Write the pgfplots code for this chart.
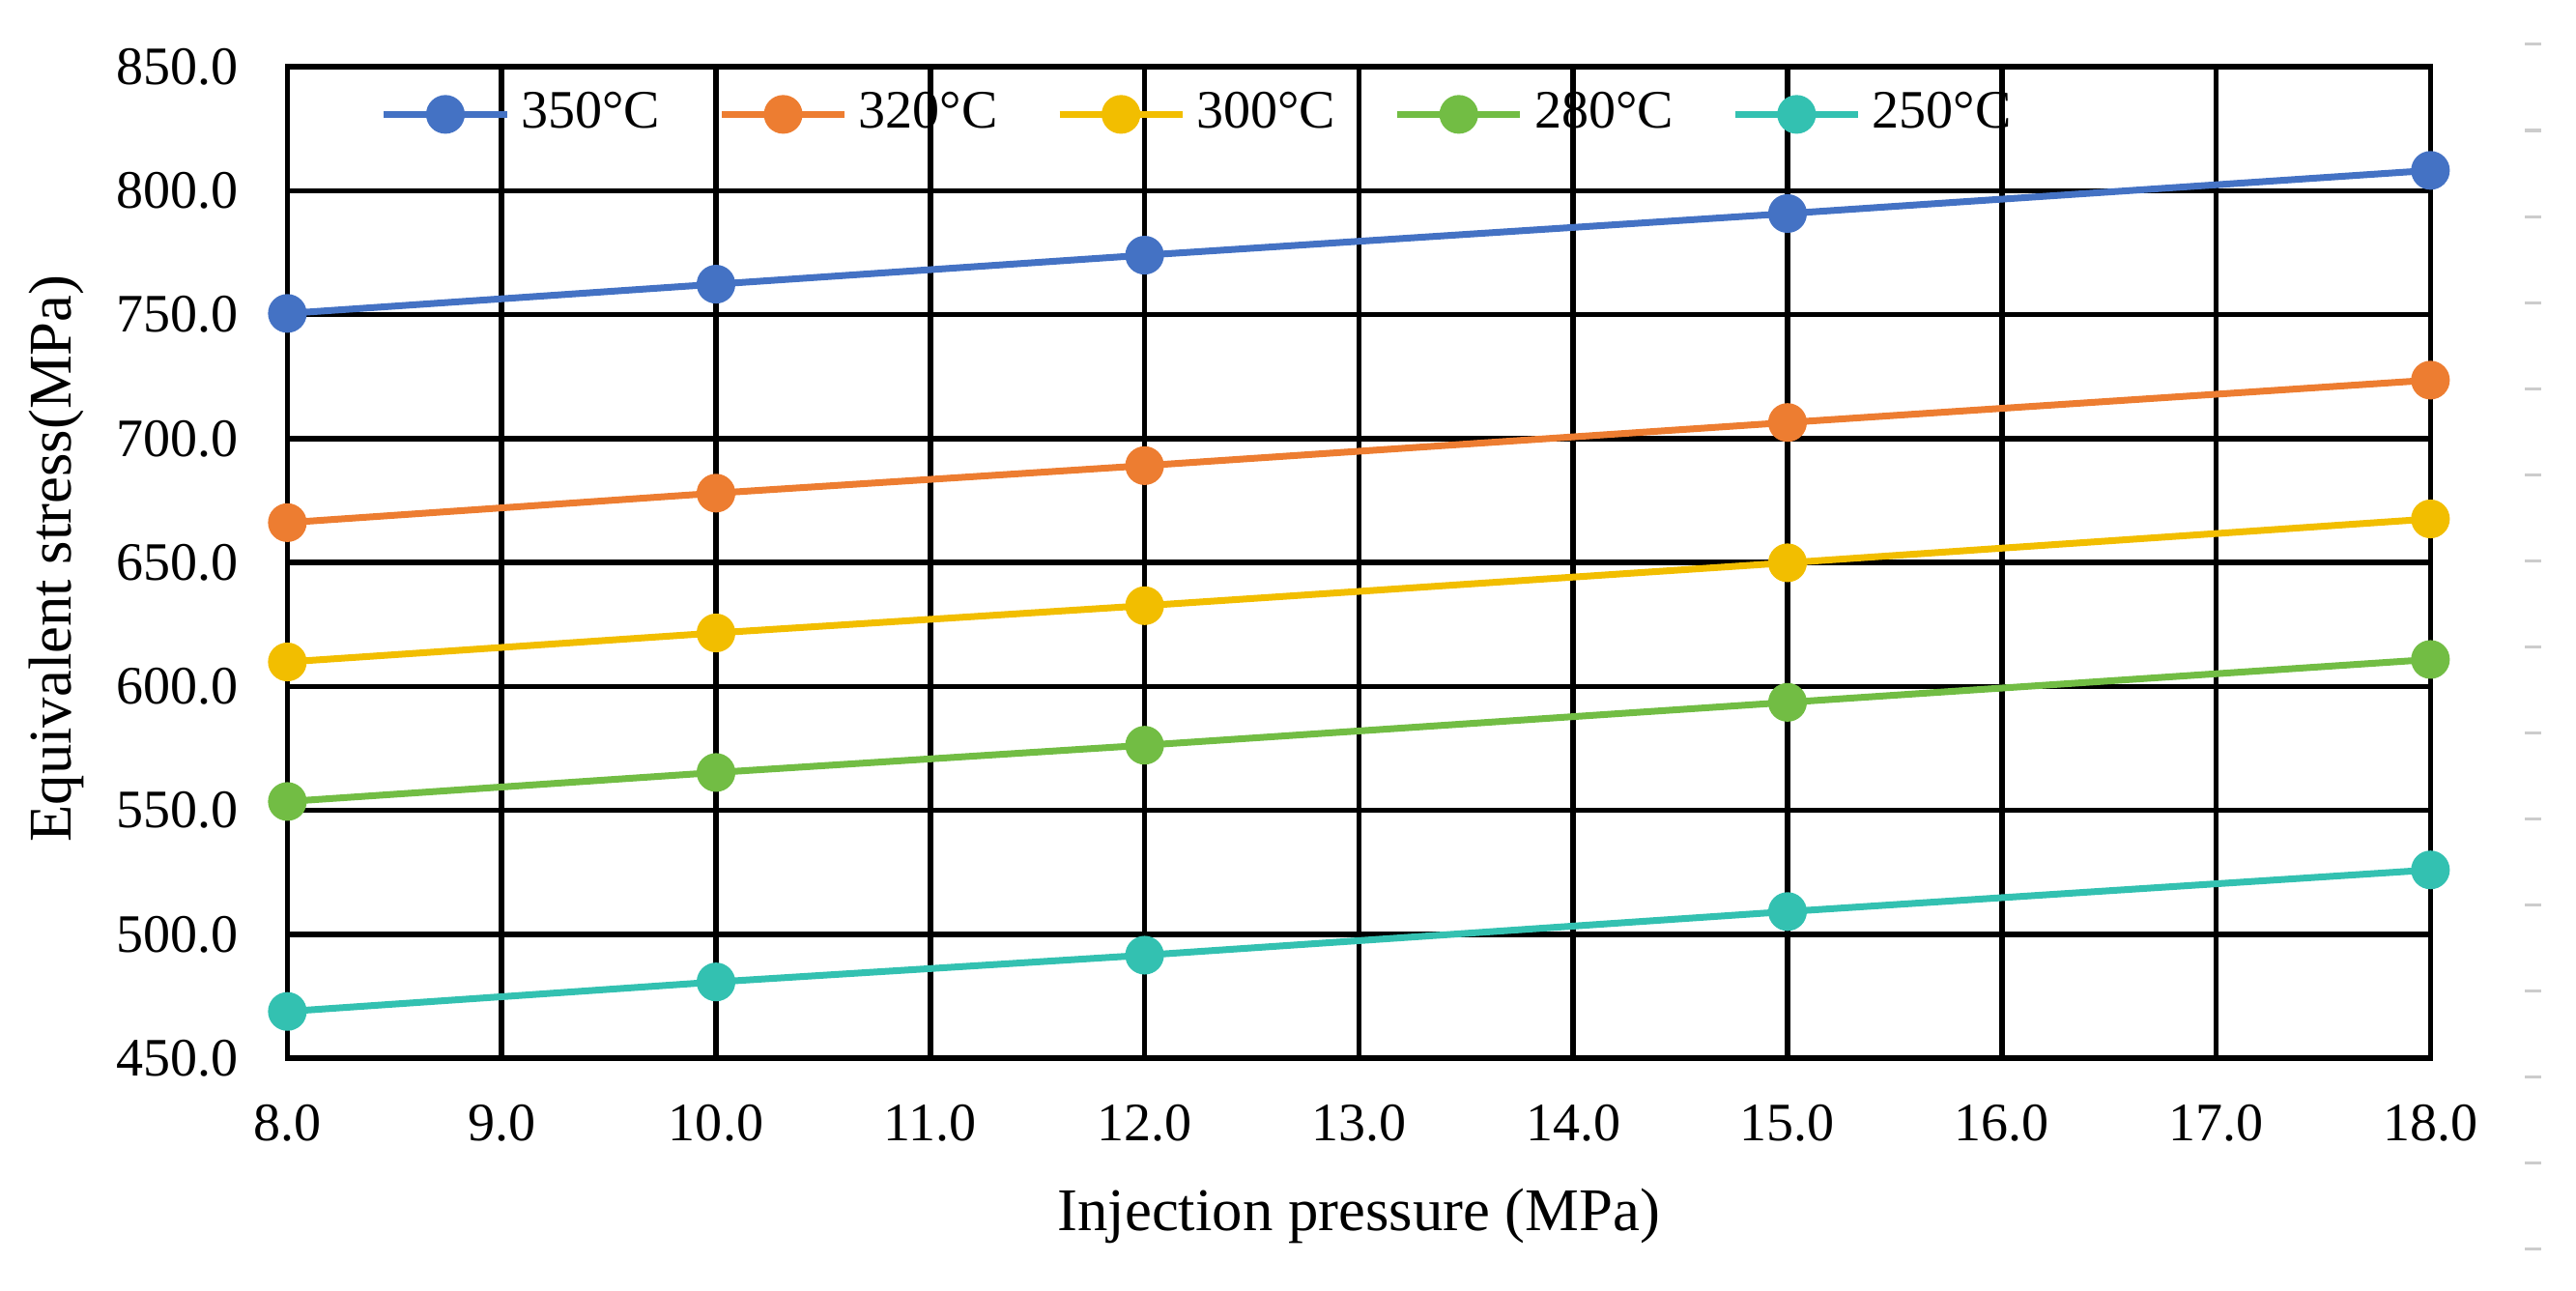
\documentclass[border=0pt]{standalone}
\usepackage{fontspec}
\setmainfont{Liberation Serif}
\usepackage{pgfplots}
\pgfplotsset{compat=1.18}
\definecolor{c350}{HTML}{4472C4}
\definecolor{c320}{HTML}{ED7D31}
\definecolor{c300}{HTML}{F2BE00}
\definecolor{c280}{HTML}{72BD44}
\definecolor{c250}{HTML}{33C1B1}
\begin{document}
\begin{tikzpicture}
\useasboundingbox (0,0) rectangle (476pt,238.4pt);
\draw[black!20, line width=3pt, dash pattern=on 0.55pt off 15.35pt] (468.0pt,230.47pt) -- (468.0pt,7pt);
\begin{axis}[
  at={(53.1pt,42.86pt)}, anchor=south west,
  scale only axis, width=396pt, height=183.2pt,
  xmin=8, xmax=18, ymin=450, ymax=850,
  xtick={8,9,...,18}, ytick={450,500,...,850},
  major tick length=0pt,
  axis line style={line width=1pt, black},
  grid=major,
  x grid style={line width=1pt, black},
  y grid style={line width=1pt, black},
  /pgf/number format/.cd, fixed, fixed zerofill, precision=1, 1000 sep={}, assume math mode=true,
  /pgfplots/.cd,
  tick label style={font=\fontsize{10}{12}\selectfont},
  xticklabel style={yshift=-5pt},
  yticklabel style={xshift=-5.6pt},
  xlabel={Injection pressure (MPa)},
  ylabel={Equivalent stress(MPa)},
  label style={font=\fontsize{11.2}{13}\selectfont},
  xlabel style={at={(axis description cs:0.5,-0.1736)}, anchor=base},
  ylabel style={at={(axis description cs:-0.1008,0.504)}, anchor=base},
  every axis plot/.append style={line width=1.25pt},
  legend columns=5,
  legend image code/.code={\draw[mark repeat=2,mark phase=2,#1] plot coordinates {(0pt,0pt)(11.35pt,0pt)(22.7pt,0pt)};},
  legend style={draw=none, fill=none, inner xsep=0pt, inner ysep=0pt,
    at={(axis description cs:0.0430,0.952)}, anchor=west,
    font=\fontsize{10}{12}\selectfont,
    nodes={inner sep=2pt},
    /tikz/every even column/.append style={column sep=8.8pt}},
]
\addplot[color=c350, mark=*, mark size=2.95pt] coordinates {(8,750.5) (10,762.3) (12,774.0) (15,790.8) (18,808.2)};
\addlegendentry{350°C}
\addplot[color=c320, mark=*, mark size=2.95pt] coordinates {(8,666.1) (10,678.0) (12,689.1) (15,706.5) (18,723.6)};
\addlegendentry{320°C}
\addplot[color=c300, mark=*, mark size=2.95pt] coordinates {(8,609.9) (10,621.6) (12,632.6) (15,649.9) (18,667.6)};
\addlegendentry{300°C}
\addplot[color=c280, mark=*, mark size=2.95pt] coordinates {(8,553.6) (10,565.3) (12,576.3) (15,593.6) (18,610.9)};
\addlegendentry{280°C}
\addplot[color=c250, mark=*, mark size=2.95pt] coordinates {(8,468.9) (10,480.8) (12,491.6) (15,509.2) (18,526.0)};
\addlegendentry{250°C}
\end{axis}
\end{tikzpicture}
\end{document}
